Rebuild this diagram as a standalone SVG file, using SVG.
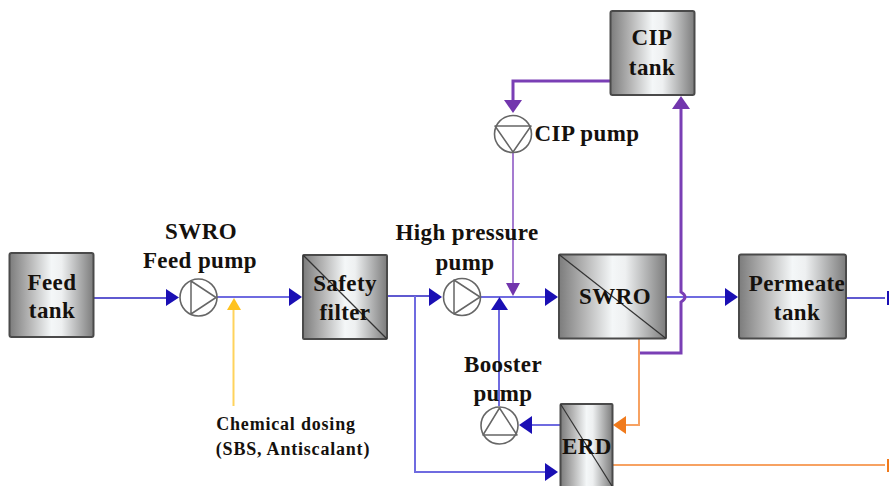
<svg xmlns="http://www.w3.org/2000/svg" width="889" height="486" viewBox="0 0 889 486">
<style>
.box{fill:url(#metal);stroke:#4a4a4a;stroke-width:2}
.diag{stroke:#333;stroke-width:1.2;fill:none}
.pump{fill:#fff;stroke:#666;stroke-width:1.6}
.pumpi{fill:none;stroke:#666;stroke-width:1.5;stroke-linejoin:round}
text{font-family:"Liberation Serif","Times New Roman",serif;font-weight:bold;fill:#15110d;text-anchor:middle}
.l{font-size:23px;letter-spacing:.4px}
.s{font-size:18px;letter-spacing:.8px}
.c{fill:none}
.blue{stroke:#6f6be0;stroke-width:2}
.blue2{stroke:#2a22c0;stroke-width:1.6}
.pur{stroke:#7a3fb5;stroke-width:3}
.purt{stroke:#a57bd0;stroke-width:2}
.org{stroke:#f7a262;stroke-width:2}
.yel{stroke:#ffd35c;stroke-width:2}
</style>
<defs>
<linearGradient id="metal" x1="0" x2="1" y1="0" y2="0">
<stop offset="0" stop-color="#7c7c7c"/><stop offset=".25" stop-color="#b8b8b8"/><stop offset=".5" stop-color="#f4f7f8"/><stop offset=".62" stop-color="#eef0f1"/><stop offset="1" stop-color="#7c7c7c"/>
</linearGradient>
</defs>
<rect width="889" height="486" fill="#fff"/>
<g id="connectors">
<path class="c blue2" d="M94 298H168"/>
<path class="c blue" d="M217 297H292"/>
<path class="c blue2" d="M387 296H430"/>
<path class="c blue" d="M481 297H546"/>
<path class="c blue" d="M415 296V472H546"/>
<path class="c blue" d="M499 406V305"/>
<path class="c blue" d="M560 425H530"/>
<path class="c blue" d="M666 297H726"/>
<path class="c blue2" d="M846 298H885"/>
<path class="c yel" d="M233.500 406V310"/>
<path class="c pur" d="M610 81H513V103"/>
<path class="c purt" d="M513 153V285"/>
<path class="c pur" d="M639 353H681V302Q689 297 681 292V108"/>
<path class="c org" d="M639 339V425H625"/>
<path class="c org" d="M612 465H885"/>
<g fill="#1a0fb4">
<polygon points="166,289 179,297.500 166,306"/>
<polygon points="289,288 302,297 289,306"/>
<polygon points="429,288 442,297 429,306"/>
<polygon points="545,288 558,297 545,306"/>
<polygon points="545,463 558,472 545,481"/>
<polygon points="491,310 499.500,297 508,310"/>
<polygon points="532,416 519,425 532,434"/>
<polygon points="725,288 738,297 725,306"/>
<rect x="887" y="291" width="2" height="14"/>
</g>
<polygon fill="#ffc21f" points="227,310 234,298 241,310"/>
<g fill="#7236ad">
<polygon points="506,283 513,296 520,283"/>
<polygon points="504,100 513,113 522,100"/>
<polygon points="672,109 681,96 690,109"/>
</g>
<polygon fill="#f07a1c" points="626,416 613,425 626,434"/>
<rect x="887" y="459" width="2" height="13" fill="#f07a1c"/>
</g>
<g id="feed-tank"><rect class="box" x="9.500" y="253" width="84" height="84" rx="2"/><text class="l" x="52" y="290">Feed</text><text class="l" x="52" y="318">tank</text></g>
<g id="swro-feed-pump"><circle class="pump" cx="198.500" cy="297.500" r="18.500"/><path class="pumpi" d="M191 281V314L216 297.500Z"/><text class="l" x="201" y="239">SWRO</text><text class="l" x="200" y="268">Feed pump</text></g>
<g id="safety-filter"><rect class="box" x="303" y="255" width="84" height="84" rx="1"/><path class="diag" d="M303 255L387 339"/><text class="l" x="345" y="291">Safety</text><text class="l" x="345" y="320">filter</text></g>
<g id="high-pressure-pump"><circle class="pump" cx="462" cy="297" r="18.500"/><path class="pumpi" d="M454 280V314L480 297Z"/><text class="l" x="467" y="240">High pressure</text><text class="l" x="465" y="270">pump</text></g>
<g id="swro"><rect class="box" x="559" y="254.500" width="107" height="84" rx="1"/><path class="diag" d="M559 254.500L666 338.500"/><text class="l" x="615" y="304">SWRO</text></g>
<g id="permeate-tank"><rect class="box" x="739" y="254.500" width="107" height="84" rx="2"/><text class="l" x="797" y="291">Permeate</text><text class="l" x="797" y="320">tank</text></g>
<g id="cip-tank"><rect class="box" x="610.500" y="11" width="84" height="84" rx="2"/><text class="l" x="652" y="45">CIP</text><text class="l" x="652" y="75">tank</text></g>
<g id="cip-pump"><circle class="pump" cx="513" cy="134" r="18.500"/><path class="pumpi" d="M495 126H531L513 152Z"/><text class="l" x="587" y="141">CIP pump</text></g>
<g id="booster-pump"><circle class="pump" cx="499.500" cy="425.500" r="18.500"/><path class="pumpi" d="M483 435H517L499.500 408Z"/><text class="l" x="503" y="372">Booster</text><text class="l" x="503" y="401">pump</text></g>
<g id="erd"><rect class="box" x="560.500" y="404" width="52" height="90" rx="1"/><path class="diag" d="M560.500 404L612 486"/><text class="l" x="587" y="454">ERD</text></g>
<g id="chemical-dosing"><text class="s" x="286" y="430">Chemical dosing</text><text class="s" x="293" y="455">(SBS, Antiscalant)</text></g>
</svg>
